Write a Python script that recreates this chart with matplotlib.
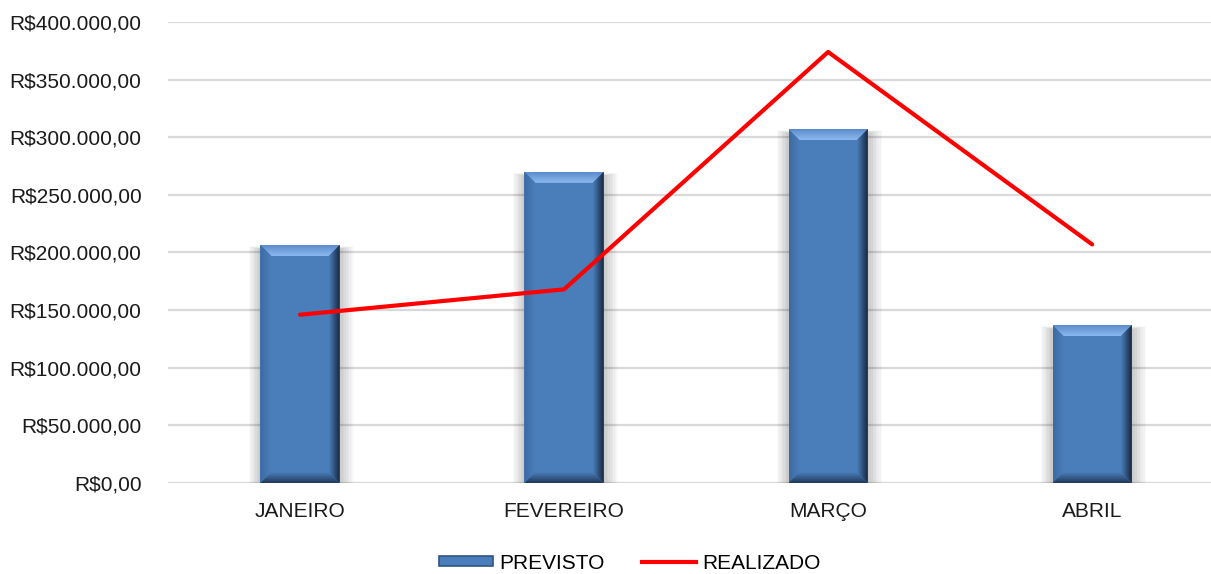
import matplotlib
matplotlib.use('Agg')
from matplotlib import pyplot as plt
from matplotlib.patches import Polygon, Rectangle, Patch
from matplotlib.lines import Line2D
from matplotlib.colors import to_rgb
from matplotlib.ticker import FuncFormatter
import numpy as np

meses = ['JANEIRO', 'FEVEREIRO', 'MARÇO', 'ABRIL']
previsto = [206500, 270000, 307000, 137000]
realizado = [146000, 168000, 374000, 207000]
y_ticks = [0, 50000, 100000, 150000, 200000, 250000, 300000, 350000, 400000]

plt.rcParams['font.family'] = ['Liberation Sans', 'DejaVu Sans']

BAR_COLOR = '#4a7ebb'


def real_fmt(v, pos=None):
    s = '{:,.2f}'.format(v).replace(',', 'X').replace('.', ',').replace('X', '.')
    return 'R$' + s


def gradient(ax, poly, c_out, c_in, direction, ext):
    # fill a polygon with a linear gradient (outer edge -> inner edge)
    a, b = np.array(to_rgb(c_out)), np.array(to_rgb(c_in))
    t = np.linspace(0, 1, 64)
    col = a[None, :] * (1 - t[:, None]) + b[None, :] * t[:, None]
    if direction == 'top':
        img = col[:, None, :]
    elif direction == 'bottom':
        img = col[::-1][:, None, :]
    elif direction == 'left':
        img = col[None, :, :]
    else:
        img = col[::-1][None, :, :]
    ax.add_patch(poly)
    im = ax.imshow(img, extent=ext, origin='upper', aspect='auto',
                   interpolation='bilinear', zorder=4)
    im.set_clip_path(poly)


fig = plt.figure(figsize=(12.11, 5.74), dpi=100)
ax = fig.add_axes([168 / 1211, 91 / 574, 1 - 168 / 1211, 461 / 574])

x = np.arange(len(meses))
width = 0.30

# pixel -> data scale, used for bevel and shadow sizes
px_x = (3.45 + 0.5) / (1211 - 168)
px_y = 400000 / 461.0

bars = ax.bar(x, previsto, width=width, color=BAR_COLOR, zorder=3)

# soft shadow around each bar
for xi, h in zip(x, previsto):
    left = xi - width / 2
    for k in range(1, 10):
        ax.add_patch(Rectangle((left - k * 1.3 * px_x, 0), width + k * 2.9 * px_x,
                               h - 4 * px_y + k * 0.3 * px_y, color='black', alpha=0.022,
                               lw=0, zorder=2))

# bevel edges
bx = 11 * px_x
by = 11 * px_y
for xi, h in zip(x, previsto):
    l, r = xi - width / 2, xi + width / 2
    top = Polygon([(l, h), (r, h), (r - bx, h - by), (l + bx, h - by)], fc='none', lw=0, zorder=4)
    gradient(ax, top, '#5b8ccc', '#8cb8ee', 'top', (l, r, h - by, h))
    left = Polygon([(l, 0), (l, h), (l + bx, h - by), (l + bx, by)], fc='none', lw=0, zorder=4)
    gradient(ax, left, '#3d6aa2', BAR_COLOR, 'left', (l, l + bx, 0, h))
    right = Polygon([(r, 0), (r, h), (r - bx, h - by), (r - bx, by)], fc='none', lw=0, zorder=4)
    gradient(ax, right, '#17263d', BAR_COLOR, 'right', (r - bx, r, 0, h))
    bottom = Polygon([(l, 0), (r, 0), (r - bx, by), (l + bx, by)], fc='none', lw=0, zorder=4)
    gradient(ax, bottom, '#22395a', BAR_COLOR, 'bottom', (l, r, 0, by))

ax.plot(x, realizado, color='#ff0000', lw=3, zorder=5, solid_capstyle='round')

ax.set_xlim(-0.5, 3.45)
ax.set_ylim(0, 400000)
ax.set_yticks(y_ticks)
ax.yaxis.set_major_formatter(FuncFormatter(real_fmt))
ax.set_xticks(x)
ax.set_xticklabels(meses)
ax.grid(axis='y', color='#d9d9d9', lw=1.6, zorder=0)
ax.set_axisbelow(True)
for s in ax.spines.values():
    s.set_visible(False)
ax.tick_params(axis='both', length=0, labelsize=15, colors='#1a1a1a')
ax.tick_params(axis='y', pad=19)
ax.tick_params(axis='x', pad=14)

handles = [Patch(facecolor=BAR_COLOR, edgecolor='#2f5585', lw=1.2),
           Line2D([0], [0], color='#ff0000', lw=3)]
fig.legend(handles, ['PREVISTO', 'REALIZADO'], loc='center', ncol=2,
           bbox_to_anchor=(0.52, 0.019), frameon=False, fontsize=15,
           handlelength=2.6, handleheight=0.35, handletextpad=0.3, columnspacing=1.8)

fig.savefig('out.png', dpi=100)
